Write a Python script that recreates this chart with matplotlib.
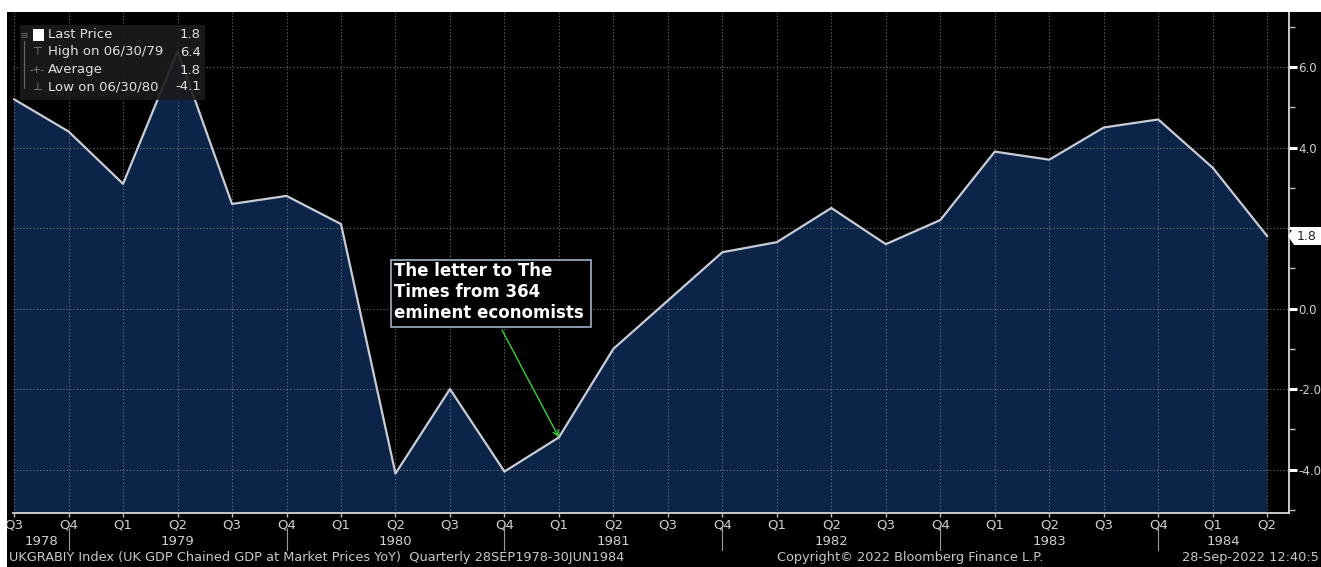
import matplotlib
matplotlib.use("Agg")
import matplotlib.pyplot as plt
import matplotlib.transforms as mtransforms
from matplotlib.patches import Rectangle, Polygon

# UK GDP YoY, quarterly Q3 1978 - Q2 1984
quarters = ["Q3", "Q4", "Q1", "Q2", "Q3", "Q4", "Q1", "Q2", "Q3", "Q4", "Q1", "Q2",
            "Q3", "Q4", "Q1", "Q2", "Q3", "Q4", "Q1", "Q2", "Q3", "Q4", "Q1", "Q2"]
gdp_yoy = [5.2, 4.4, 3.1, 6.4, 2.6, 2.8, 2.1, -4.1, -2.0, -4.05, -3.2, -1.0,
           0.2, 1.4, 1.65, 2.5, 1.6, 2.2, 3.9, 3.7, 4.5, 4.7, 3.5, 1.8]
years = ["1978", "1979", "1980", "1981", "1982", "1983", "1984"]
year_pos = [0.5, 3, 7, 11, 15, 19, 22.2]
year_breaks = [1, 5, 9, 13, 17, 21]

legend_rows = ["Last Price", "High on 06/30/79", "Average", "Low on 06/30/80"]
legend_vals = ["1.8", "6.4", "1.8", "-4.1"]

W, H = 1321, 567
fig = plt.figure(figsize=(W / 100, H / 100), dpi=100, facecolor="black")

# white margins at the top and left like the screenshot
fig.patches.append(Rectangle((0, 1 - 12 / H), 1, 12 / H, transform=fig.transFigure,
                             fc="white", ec="none", zorder=0))
fig.patches.append(Rectangle((0, 0), 7 / W, 1, transform=fig.transFigure,
                             fc="white", ec="none", zorder=0))


def px(x, y):
    # screen pixels (top-left origin) -> figure fraction
    return x / W, 1 - y / H


ax_l, ax_r, ax_t, ax_b = 13, 1289, 12, 513
ax = fig.add_axes([ax_l / W, 1 - ax_b / H, (ax_r - ax_l) / W, (ax_b - ax_t) / H])
ax.set_facecolor("black")

x = list(range(len(gdp_yoy)))
ax.fill_between(x, gdp_yoy, -10, color="#0b2448", lw=0, zorder=1)
ax.plot(x, gdp_yoy, color="#c9ccd6", lw=1.6, zorder=3)

ax.set_xlim(-0.02, 23.4)
ax.set_ylim(-5.08, 7.37)

# grid
ax.set_axisbelow(False)
ax.grid(True, color="#9a9a9a", linestyle=(0, (1, 2)), linewidth=0.8, alpha=0.7)

# spines
for s in ["top", "left"]:
    ax.spines[s].set_visible(False)
for s in ["right", "bottom"]:
    ax.spines[s].set_color("#d8d8d8")
    ax.spines[s].set_linewidth(1.3)

# y axis on the right
ax.yaxis.tick_right()
ax.set_yticks([-4, -2, 0, 2, 4, 6])
ax.set_yticklabels(["-4.0", "-2.0", "0.0", "", "4.0", "6.0"])
ax.set_yticks([-5, -3, -1, 1, 3, 5, 7], minor=True)
ax.tick_params(axis="y", which="major", length=6, width=2.2, color="white",
               labelcolor="#d0d0d0", labelsize=8.5, pad=0.5)
ax.tick_params(axis="y", which="minor", length=4, width=1, color="#bbbbbb")

# x axis
ax.set_xticks(x)
ax.set_xticklabels(quarters)
ax.tick_params(axis="x", length=3, width=1, color="#bbbbbb", labelcolor="#d0d0d0",
               labelsize=9.5, pad=1)

trans = mtransforms.blended_transform_factory(ax.transData, ax.transAxes)
for yr, xp in zip(years, year_pos):
    ax.text(xp, -0.057, yr, transform=trans, ha="center", va="center",
            color="#d0d0d0", fontsize=9.5)
for xb in year_breaks:
    ax.plot([xb, xb], [-0.03, -0.074], transform=trans, color="#9a9a9a",
            lw=0.8, clip_on=False)

# last price tag
tag = [(1288, 236), (1294, 227), (1321, 227), (1321, 245), (1294, 245)]
fig.patches.append(Polygon([px(a, b) for a, b in tag], closed=True,
                           transform=fig.transFigure, fc="white", ec="none", zorder=5))
fig.text(*px(1297, 236), f"{gdp_yoy[-1]:.1f}", color="#222222", fontsize=9,
         ha="left", va="center", zorder=6)

# legend block
lx0, ly0 = px(20, 100)
lx1, ly1 = px(205, 25)
fig.patches.append(Rectangle((lx0, ly0), lx1 - lx0, ly1 - ly0, transform=fig.transFigure,
                             fc="#1b1b1b", ec="none", alpha=0.9, zorder=4))
row_y = [35, 52, 70, 87]
for label, val, ry in zip(legend_rows, legend_vals, row_y):
    fig.text(*px(48, ry), label, color="#e0e0e0", fontsize=9.5, va="center", ha="left",
             zorder=5)
    fig.text(*px(201, ry), val, color="#e0e0e0", fontsize=9.5, va="center", ha="right",
             zorder=5)
sq_x, sq_y = px(33, 41)
fig.patches.append(Rectangle((sq_x, sq_y), 11 / W, 12 / H, transform=fig.transFigure,
                             fc="white", ec="none", zorder=5))
fig.text(*px(24, 35), "⊟", color="#777777", fontsize=6, ha="center", va="center", zorder=5)
fig.text(*px(37, 52), "⊤", color="#888888", fontsize=8, ha="center", va="center", zorder=5)
fig.text(*px(37, 70), "-+-", color="#888888", fontsize=7, ha="center", va="center", zorder=5)
fig.text(*px(37, 87), "⊥", color="#888888", fontsize=8, ha="center", va="center", zorder=5)
tx, ty0 = px(24, 41)
_, ty1 = px(24, 88)
fig.add_artist(plt.Line2D([tx, tx], [ty0, ty1], color="#666666", lw=0.8, zorder=5))

# annotation box and arrow
bx0, by0 = px(391, 327)
bx1, by1 = px(591, 260)
fig.patches.append(Rectangle((bx0, by0), bx1 - bx0, by1 - by0, transform=fig.transFigure,
                             fc="black", ec="#9fb0c8", lw=1.2, zorder=4))
fig.text(*px(394, 262), "The letter to The\nTimes from 364\neminent economists",
         color="white", fontsize=12, fontweight="bold", ha="left", va="top",
         linespacing=1.2, zorder=5)
ax.annotate("", xy=(10, gdp_yoy[10]), xytext=(502, H - 330), textcoords="figure pixels",
            arrowprops=dict(arrowstyle="->", color="#3ad03a", lw=1.0,
                            shrinkA=0, shrinkB=0), zorder=6)

# footer
fig.text(*px(9, 558), "UKGRABIY Index (UK GDP Chained GDP at Market Prices YoY)  "
         "Quarterly 28SEP1978-30JUN1984", color="#c8c8c8", fontsize=9.3,
         ha="left", va="center")
fig.text(*px(777, 558), "Copyright\u00a9 2022 Bloomberg Finance L.P.", color="#c8c8c8",
         fontsize=9.3, ha="left", va="center")
fig.text(*px(1182, 558), "28-Sep-2022 12:40:5", color="#c8c8c8", fontsize=9.3,
         ha="left", va="center")

fig.savefig("out.png", dpi=100, facecolor=fig.get_facecolor())
